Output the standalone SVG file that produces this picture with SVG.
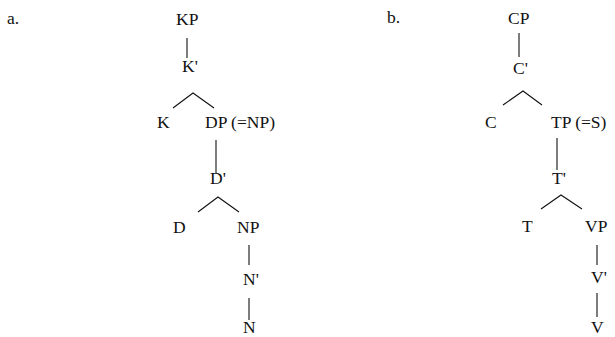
<svg xmlns="http://www.w3.org/2000/svg" width="615" height="337" viewBox="0 0 615 337">
<style>
text{font-family:"Liberation Serif","Times New Roman",serif;font-size:17.5px;fill:#111}
.e line, .e polyline{stroke:#111;stroke-width:1.1;fill:none}
</style>
<rect width="615" height="337" fill="#fff"/>
<g id="label-a"><text x="7" y="24">a.</text></g>
<g id="label-b"><text x="387" y="23">b.</text></g>
<g id="KP"><text x="176" y="25">KP</text></g>
<g id="Kbar"><text x="182" y="72">K'</text></g>
<g id="K"><text x="157" y="128">K</text></g>
<g id="DP"><text x="205" y="128">DP (=NP)</text></g>
<g id="Dbar"><text x="210" y="184">D'</text></g>
<g id="D"><text x="173" y="233">D</text></g>
<g id="NP"><text x="237" y="233">NP</text></g>
<g id="Nbar"><text x="243" y="285">N'</text></g>
<g id="N"><text x="243" y="333">N</text></g>
<g id="CP"><text x="508" y="24">CP</text></g>
<g id="Cbar"><text x="513" y="74">C'</text></g>
<g id="C"><text x="485" y="128">C</text></g>
<g id="TP"><text x="551" y="128">TP (=S)</text></g>
<g id="Tbar"><text x="552" y="184">T'</text></g>
<g id="T"><text x="522" y="232">T</text></g>
<g id="VP"><text x="585" y="232">VP</text></g>
<g id="Vbar"><text x="591" y="283">V'</text></g>
<g id="V"><text x="591" y="333">V</text></g>
<g id="edges" class="e">
<line x1="187" y1="38" x2="187" y2="58"/>
<polyline points="173,108 193,93 214,108"/>
<line x1="216" y1="140" x2="216" y2="173"/>
<polyline points="198,212 218,197 239,212"/>
<line x1="249" y1="245" x2="249" y2="265"/>
<line x1="249" y1="298" x2="249" y2="320"/>
<line x1="519" y1="33" x2="519" y2="57"/>
<polyline points="503,105 523,91 542,105"/>
<line x1="557" y1="138" x2="557" y2="170"/>
<polyline points="541,209 561,195 582,209"/>
<line x1="597" y1="245" x2="597" y2="265"/>
<line x1="597" y1="293" x2="597" y2="317"/>
</g>
</svg>
